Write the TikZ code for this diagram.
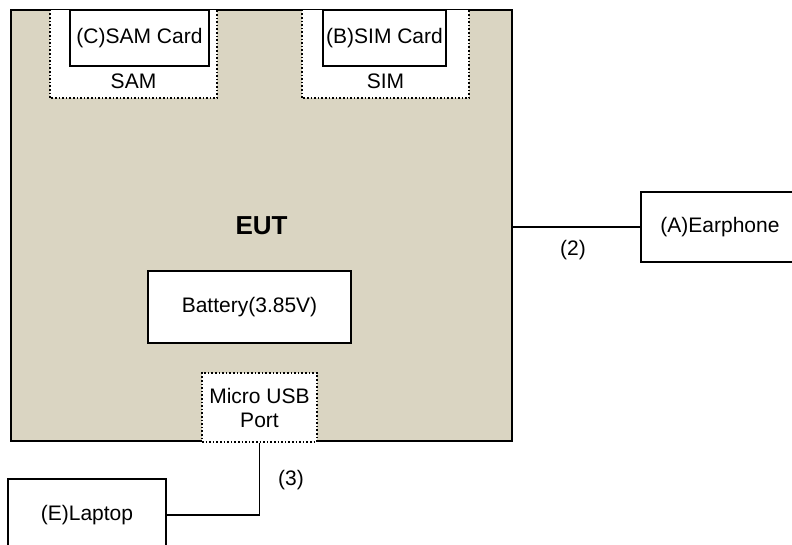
\documentclass[tikz,border=0pt]{standalone}
\usepackage{fontspec}
\setmainfont{Liberation Sans}
\usepackage{tikz}
\usetikzlibrary{positioning}
\definecolor{eutbg}{RGB}{218,213,194}

\begin{document}
\begin{tikzpicture}[
  x=1pt, y=-1pt,
  every node/.style={font=\fontsize{21}{24}\selectfont, inner sep=0pt},
  box/.style={draw, line width=1.6pt, fill=white, align=center},
  slot/.style={fill=white},
  dotbox/.style={draw, dotted, line width=1.6pt, fill=white, align=center},
  wire/.style={line width=1.6pt}
]
\useasboundingbox (0,0) rectangle (792,544);
\node[draw, line width=1.8pt, fill=eutbg, minimum width=501pt, minimum height=431pt] (eut) at (261.5,225.5) {};
\node[slot, minimum width=167pt, minimum height=88pt] (sam) at (133.5,54) {};
\node[slot, minimum width=167pt, minimum height=88pt] (sim) at (385.5,54) {};
\draw[dotted, line width=1.6pt] (sam.north west) |- (sam.south east) -- (sam.north east);
\draw[dotted, line width=1.6pt] (sim.north west) |- (sim.south east) -- (sim.north east);
\node[box, minimum width=139pt, minimum height=56pt] (samcard) at (139.5,38) {(C)SAM Card};
\node[box, minimum width=123pt, minimum height=56pt] (simcard) at (384.5,38) {(B)SIM Card};
\node (samlbl) at (133.5,81) {SAM};
\node (simlbl) at (385.5,81) {SIM};
\node[font=\fontsize{26}{30}\selectfont\bfseries] (eutlbl) at (261.5,226) {EUT};
\node[box, minimum width=203pt, minimum height=72pt] (battery) at (249.5,307) {Battery(3.85V)};
\node[dotbox, minimum width=115pt, minimum height=69pt] (usb) at (259.5,407.5) {Micro USB\\Port};
\node[box, minimum width=158pt, minimum height=70pt] (earphone) at (720,227) {(A)Earphone};
\node[box, minimum width=158pt, minimum height=72pt] (laptop) at (87,515) {(E)Laptop};
\draw[wire] (earphone.west) -- (earphone.west -| eut.east);
\draw[wire] (usb.south) |- (laptop.east);
\node (lbl2) at (573,250) {(2)};
\node (lbl3) at (291,480) {(3)};
\end{tikzpicture}
\end{document}
